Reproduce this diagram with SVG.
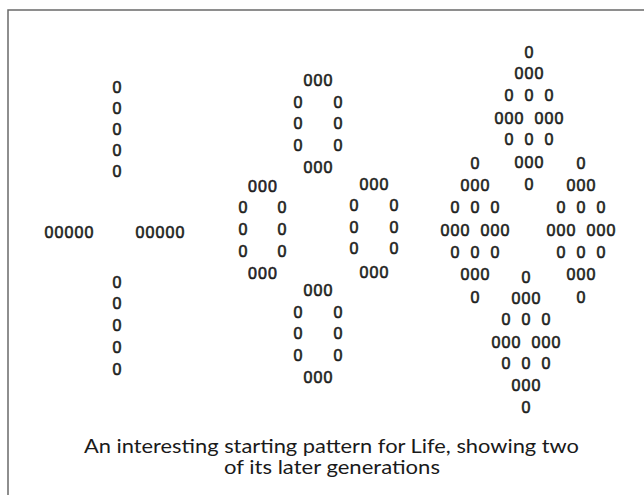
<svg xmlns="http://www.w3.org/2000/svg" width="644" height="495" viewBox="0 0 644 495">
<style>
.c{font-family:"Liberation Sans",Arial,sans-serif;font-weight:normal;font-size:16px;fill:#1e1e1e;stroke:#1e1e1e;stroke-width:0.6;text-anchor:middle}
.cap{font-family:Lato,"Liberation Sans",sans-serif;font-size:19px;fill:#1a1a1a;text-anchor:middle}
.frame{stroke:#6a6a6a;stroke-width:1.5;fill:none}
</style>
<rect width="644" height="495" fill="#ffffff"/>
<path class="frame" d="M8,495 V10 H644"/>
<g id="gen1" class="c">
<text x="117" y="93">0</text>
<text x="117" y="114">0</text>
<text x="117" y="135">0</text>
<text x="117" y="156">0</text>
<text x="117" y="177">0</text>
<text x="49 59 69 79 89" y="238">00000</text>
<text x="140 150 160 170 180" y="238">00000</text>
<text x="117" y="288">0</text>
<text x="117" y="309">0</text>
<text x="117" y="331">0</text>
<text x="117" y="353">0</text>
<text x="117" y="375">0</text>
</g>
<g id="gen2" class="c">
<g id="ring-top">
<text x="308 318 328" y="86">000</text>
<text x="298 338" y="108">00</text>
<text x="298 338" y="129">00</text>
<text x="298 338" y="151">00</text>
<text x="308 318 328" y="173">000</text>
</g>
<g id="ring-left">
<text x="252.5 262.5 272.5" y="192">000</text>
<text x="243 282" y="213">00</text>
<text x="243 282" y="235">00</text>
<text x="243 282" y="257">00</text>
<text x="252.5 262.5 272.5" y="279">000</text>
</g>
<g id="ring-right">
<text x="364 374 384" y="190">000</text>
<text x="354 394" y="211">00</text>
<text x="354 394" y="233">00</text>
<text x="354 394" y="254">00</text>
<text x="364 374 384" y="278">000</text>
</g>
<g id="ring-bottom">
<text x="308 318 328" y="296">000</text>
<text x="298 338" y="318">00</text>
<text x="298 338" y="339">00</text>
<text x="298 338" y="361">00</text>
<text x="308 318 328" y="383">000</text>
</g>
</g>
<g id="gen3" class="c">
<g id="diamond-top">
<text x="529" y="58">0</text>
<text x="519 529 539" y="79">000</text>
<text x="509 529 549" y="101">000</text>
<text x="499 509 519 539 549 559" y="124">000000</text>
<text x="509 529 549" y="145">000</text>
<text x="519 529 539" y="168">000</text>
<text x="529" y="190">0</text>
</g>
<g id="diamond-left">
<text x="475" y="169">0</text>
<text x="465 475 485" y="191">000</text>
<text x="455 475 495" y="213">000</text>
<text x="445 455 465 485 495 505" y="236">000000</text>
<text x="455 475 495" y="258">000</text>
<text x="465 475 485" y="280">000</text>
<text x="475" y="303">0</text>
</g>
<g id="diamond-right">
<text x="581" y="169">0</text>
<text x="571 581 591" y="191">000</text>
<text x="561 581 601" y="213">000</text>
<text x="551 561 571 591 601 611" y="236">000000</text>
<text x="561 581 601" y="258">000</text>
<text x="571 581 591" y="280">000</text>
<text x="581" y="303">0</text>
</g>
<g id="diamond-bottom">
<text x="526" y="283">0</text>
<text x="516 526 536" y="304">000</text>
<text x="506 526 546" y="325">000</text>
<text x="496 506 516 536 546 556" y="348">000000</text>
<text x="506 526 546" y="369">000</text>
<text x="516 526 536" y="391">000</text>
<text x="526" y="413">0</text>
</g>
</g>
<g id="caption" class="cap">
<text x="331.5" y="453" textLength="495" lengthAdjust="spacingAndGlyphs">An interesting starting pattern for Life, showing two</text>
<text x="332" y="474" textLength="216" lengthAdjust="spacingAndGlyphs">of its later generations</text>
</g>
</svg>
